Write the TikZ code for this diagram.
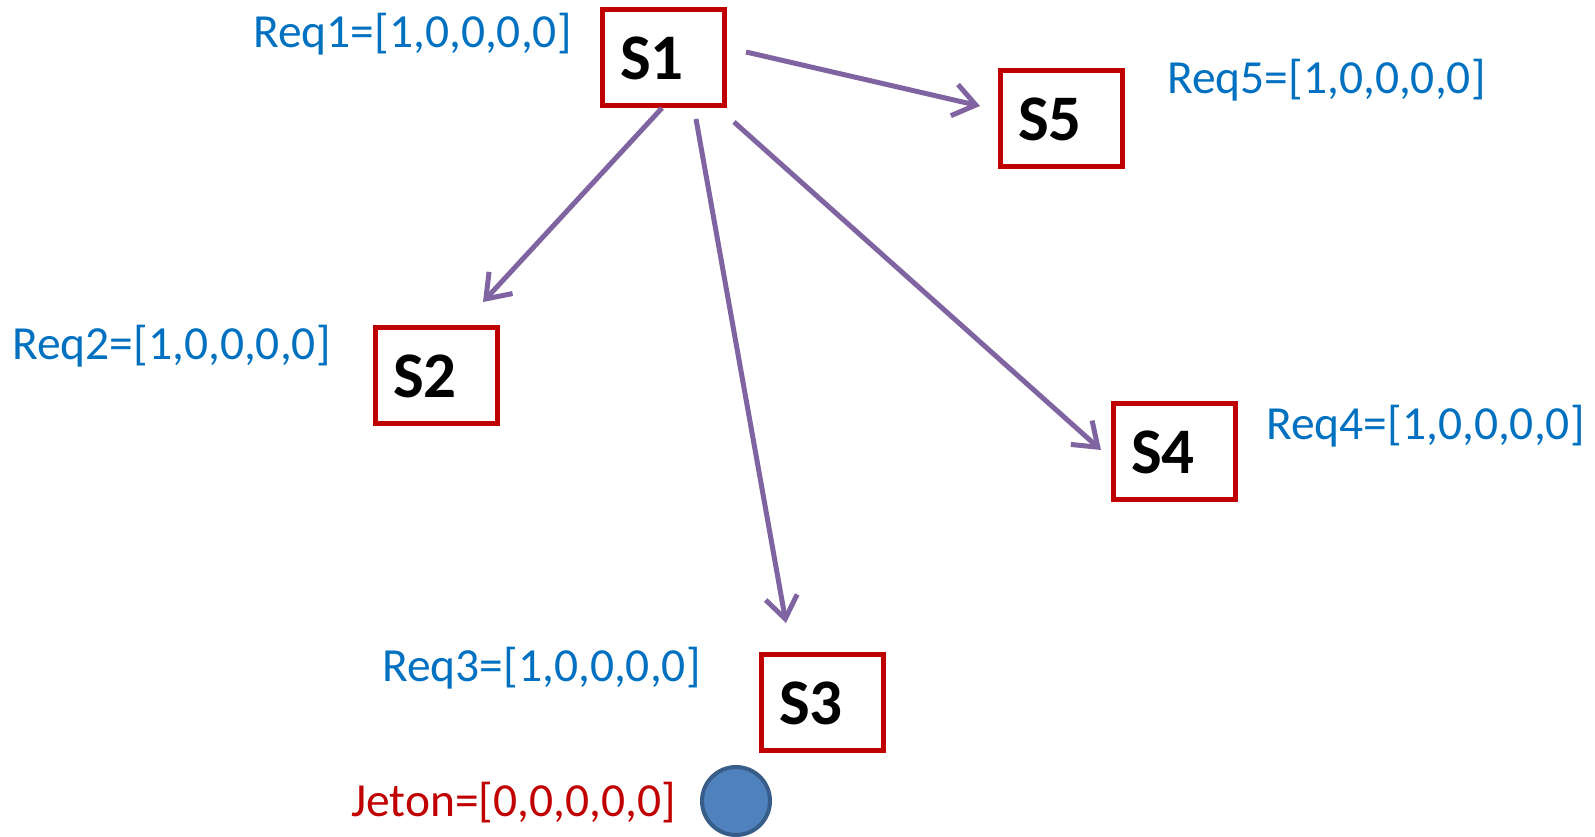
\documentclass[tikz,border=0pt]{standalone}
\usepackage{fontspec}
\setmainfont{Carlito}
\usetikzlibrary{arrows.meta}
\definecolor{boxred}{HTML}{C00000}
\definecolor{reqblue}{HTML}{0070C0}
\definecolor{arrpurple}{HTML}{8064A2}
\definecolor{tokfill}{HTML}{4F81BD}
\definecolor{tokline}{HTML}{385D8A}
\tikzset{
  sbox/.style={draw=boxred, line width=5pt, minimum width=122pt, minimum height=96pt, inner sep=0pt,
    text height=45pt, text depth=0pt,
    font=\fontsize{65}{70}\selectfont\bfseries, text=black},
  req/.style={text=reqblue, font=\fontsize{47.5}{52}\selectfont, inner sep=0pt, anchor=west},
  conn/.style={draw=arrpurple, line width=5pt, -{Straight Barb[length=22pt, width=32pt, line width=5pt]}},
}
\newcommand{\slab}[1]{#1\kern22pt}
\begin{document}
\begin{tikzpicture}[x=1pt, y=-1pt]
\useasboundingbox (0,0) rectangle (1595,836);
\node[sbox] (S1) at (663,57) {\slab{S1}};
\node[sbox] (S2) at (436,375) {\slab{S2}};
\node[sbox] (S3) at (822,702) {\slab{S3}};
\node[sbox] (S4) at (1174,451) {\slab{S4}};
\node[sbox] (S5) at (1061,118) {\slab{S5}};
\node[circle, draw=tokline, fill=tokfill, line width=4pt, minimum size=68pt, inner sep=0pt] (tok) at (736,801) {};
\node[req] (r1) at (253,34) {Req1=[1,0,0,0,0]};
\node[req] (r5) at (1167,80) {Req5=[1,0,0,0,0]};
\node[req] (r2) at (12,346) {Req2=[1,0,0,0,0]};
\node[req] (r4) at (1266,426) {Req4=[1,0,0,0,0]};
\node[req] (r3) at (382,668) {Req3=[1,0,0,0,0]};
\node[req, text=boxred] (jet) at (351,803) {Jeton=[0,0,0,0,0]};
\coordinate (a5s) at (746,52);  \coordinate (a5e) at (980,106);
\coordinate (a2s) at (662,108); \coordinate (a2e) at (483,302);
\coordinate (a3s) at (696,119); \coordinate (a3e) at (786,623);
\coordinate (a4s) at (734,122); \coordinate (a4e) at (1101,450);
\draw[conn] (a5s) -- (a5e);
\draw[conn] (a2s) -- (a2e);
\draw[conn] (a3s) -- (a3e);
\draw[conn] (a4s) -- (a4e);
\end{tikzpicture}
\end{document}
